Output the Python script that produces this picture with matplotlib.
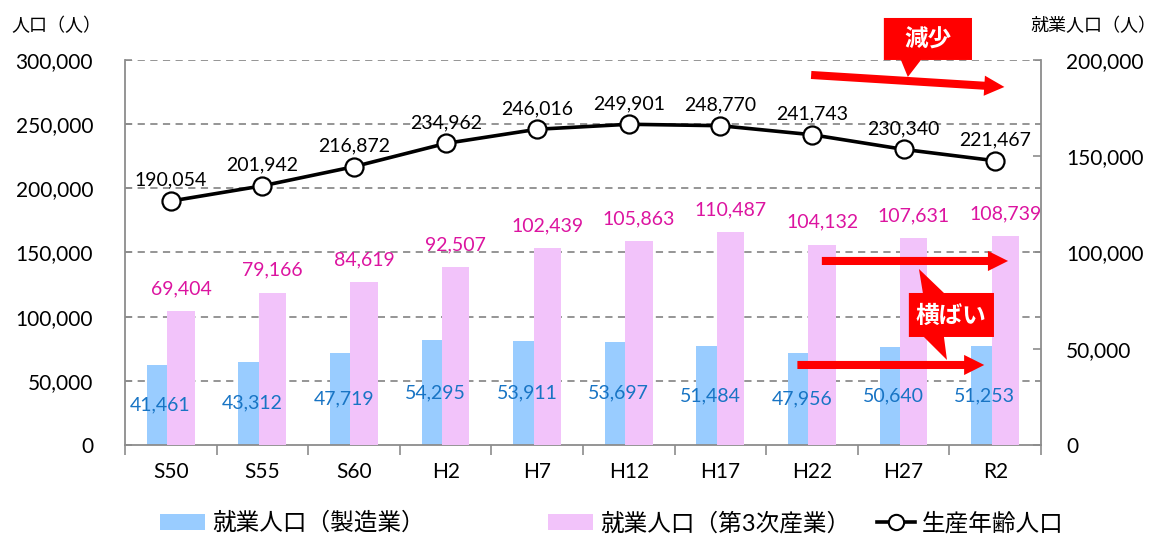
import matplotlib
matplotlib.use('Agg')
import matplotlib.pyplot as plt
from matplotlib.patches import Polygon, Patch
from matplotlib.lines import Line2D
from matplotlib.ticker import FuncFormatter, FixedLocator
import numpy as np

plt.rcParams['font.family'] = ['Lato', 'Noto Sans CJK JP', 'DejaVu Sans']

# data
years = ['S50', 'S55', 'S60', 'H2', 'H7', 'H12', 'H17', 'H22', 'H27', 'R2']
working_age = [190054, 201942, 216872, 234962, 246016, 249901, 248770, 241743, 230340, 221467]
manufacturing = [41461, 43312, 47719, 54295, 53911, 53697, 51484, 47956, 50640, 51253]
tertiary = [69404, 79166, 84619, 92507, 102439, 105863, 110487, 104132, 107631, 108739]
left_ticks = [0, 50000, 100000, 150000, 200000, 250000, 300000]
right_ticks = [0, 50000, 100000, 150000, 200000]

BLUE = '#99CCFF'
PINK = '#F2C3FA'
BLUE_TXT = '#1874C4'
PINK_TXT = '#DC14A0'
GRID = '#8C8C8C'
RED = '#FF0000'

fig = plt.figure(figsize=(11.58, 5.34), dpi=100)
axb = fig.add_axes([0.108, 0.1667, 0.791, 0.721])   # bars, right scale
ax = axb.twinx()                                    # line, left scale
ax.set_zorder(axb.get_zorder() + 1)
ax.patch.set_visible(False)

x = np.arange(len(years))

# gridlines follow the left (line) axis, drawn behind the bars
for v in left_ticks[1:]:
    axb.axhline(v * 200000 / 300000, color=GRID, lw=1.3, ls=(0, (4, 3)), zorder=0)

w = 0.30
axb.bar(x - 0.113, manufacturing, w, color=BLUE, zorder=2)
axb.bar(x + 0.11, tertiary, w, color=PINK, zorder=3)

for xi, v in zip(x, manufacturing):
    axb.text(xi - 0.113, v / 2, f'{v:,}', ha='center', va='center',
             color=BLUE_TXT, fontsize=14, zorder=5)
for xi, v in zip(x, tertiary):
    axb.annotate(f'{v:,}', (xi + 0.11, v), xytext=(0, 16), textcoords='offset points',
                 ha='center', va='center', color=PINK_TXT, fontsize=14, zorder=5)

ax.plot(x, working_age, color='black', lw=2.6, marker='o', ms=13,
        mfc='white', mec='black', mew=1.6, zorder=4)
for xi, v in zip(x, working_age):
    ax.annotate(f'{v:,}', (xi, v), xytext=(0, 15), textcoords='offset points',
                ha='center', va='center', color='black', fontsize=14, zorder=5)

# axes
axb.set_xlim(-0.5, len(years) - 0.5)
axb.set_ylim(0, 200000)
ax.set_ylim(0, 300000)
fmt = FuncFormatter(lambda v, p: f'{v:,.0f}')

axb.set_xticks(x)
axb.set_xticklabels(years)
axb.xaxis.set_minor_locator(FixedLocator(np.arange(-0.5, len(years), 1.0)))
axb.tick_params(axis='x', which='major', length=0, pad=12, labelsize=15)
axb.tick_params(axis='x', which='minor', length=7, color=GRID, width=1.2, direction='out')

axb.yaxis.tick_right()
axb.set_yticks(right_ticks)
axb.yaxis.set_major_formatter(fmt)
axb.tick_params(axis='y', direction='in', length=6, color=GRID, width=1.2, pad=18, labelsize=15)

ax.yaxis.tick_left()
ax.set_yticks(left_ticks)
ax.yaxis.set_major_formatter(fmt)
ax.tick_params(axis='y', direction='in', length=5, color=GRID, width=1.2, pad=23, labelsize=15)

for s in ['top', 'left']:
    axb.spines[s].set_visible(False)
for s in ['right', 'bottom']:
    axb.spines[s].set_color(GRID)
    axb.spines[s].set_linewidth(1.3)
for s in ['top', 'right', 'bottom']:
    ax.spines[s].set_visible(False)
ax.spines['left'].set_color(GRID)
ax.spines['left'].set_linewidth(1.3)

fig.text(0.010, 0.952, '人口（人）', fontsize=13, va='center', ha='left')
fig.text(0.999, 0.952, '就業人口（人）', fontsize=13, va='center', ha='right')
# chart title, cut off at the top edge as in the original
fig.text(0.488, 1.0 + 5 / 534, '図　生産年齢人口及び産業別就業人口の推移', fontsize=20,
         va='baseline', ha='center')

# annotations: 減少 callout and arrow
arrow_kw = dict(arrowstyle='simple,tail_width=0.58,head_width=1.45,head_length=1.45',
                color=RED, lw=0, shrinkA=0, shrinkB=0, mutation_scale=10)
ax.annotate('', xy=(9.10, 278961), xytext=(6.99, 288312), arrowprops=arrow_kw,
            annotation_clip=False, zorder=6)
box1 = [(7.784, 332727), (8.746, 332727), (8.746, 300000), (8.189, 300000),
        (8.046, 286753), (7.970, 300000), (7.784, 300000)]
ax.add_patch(Polygon(box1, closed=True, color=RED, lw=0, clip_on=False, zorder=7))
ax.text(8.265, 316364, '減少', color='white', fontsize=17, fontweight='bold',
        ha='center', va='center', zorder=8, clip_on=False)

# 横ばい arrows and callout
ax.annotate('', xy=(9.14, 143377), xytext=(7.107, 143377), arrowprops=arrow_kw,
            annotation_clip=False, zorder=6)
ax.annotate('', xy=(8.88, 62338), xytext=(6.84, 62338), arrowprops=arrow_kw,
            annotation_clip=False, zorder=6)
box2 = [(8.057, 118442), (8.210, 118442), (8.167, 137143), (8.440, 118442),
        (8.986, 118442), (8.986, 84156), (8.440, 84156), (8.473, 66234),
        (8.221, 84156), (8.057, 84156)]
ax.add_patch(Polygon(box2, closed=True, color=RED, lw=0, clip_on=False, zorder=7))
ax.text(8.516, 101299, '横ばい', color='white', fontsize=17, fontweight='bold',
        ha='center', va='center', zorder=8)

# legend, three separate entries like the original
leg_y = 11 / 534
entries = [
    (Patch(facecolor=BLUE, edgecolor='none'), '就業人口（製造業）', 160, 1.9),
    (Patch(facecolor=PINK, edgecolor='none'), '就業人口（第3次産業）', 548, 1.9),
    (Line2D([], [], color='black', lw=2.6, marker='o', ms=11, mfc='white',
            mec='black', mew=1.5), '生産年齢人口', 877, 1.6),
]
for h, lab, px, hl in entries:
    fig.legend([h], [lab], loc='center left', bbox_to_anchor=(px / 1158, leg_y),
               frameon=False, fontsize=17, handlelength=hl, handleheight=0.65,
               handletextpad=0.3, borderpad=0, borderaxespad=0)

fig.savefig('out.png', dpi=100)
